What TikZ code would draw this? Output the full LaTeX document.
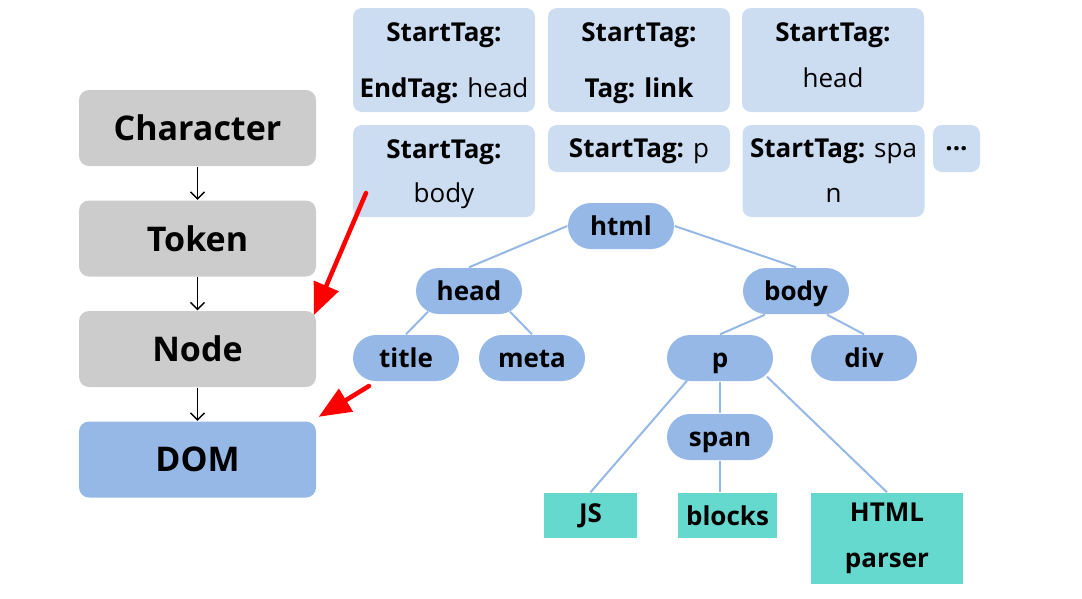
\documentclass[tikz,border=0pt]{standalone}
\usepackage{fontspec}
\setmainfont{Open Sans}
\usetikzlibrary{arrows.meta}
\definecolor{stagegray}{HTML}{CCCCCC}
\definecolor{domblue}{HTML}{95B8E7}
\definecolor{tokenblue}{HTML}{CCDDF2}
\definecolor{leafteal}{HTML}{66D9CF}
\newcommand{\upstrut}{\rule{0pt}{26pt}}
\newcommand{\downstrut}{\rule[-9pt]{0pt}{9pt}}

\begin{document}
\begin{tikzpicture}[x=1pt, y=-1pt, node distance=110.5pt,
                >={Straight Barb[length=7pt,width=14pt]}, line width=1.4pt,
                stage/.style={rectangle, rounded corners=10pt, fill=stagegray,
                    minimum width=237pt, minimum height=76pt,
                    font=\fontsize{34}{40}\selectfont\bfseries},
                tok/.style={rectangle, rounded corners=9pt, fill=tokenblue,
                    minimum width=182pt, inner sep=0pt, align=center,
                    font=\fontsize{26}{56}\selectfont},
                elem/.style={rectangle, rounded corners=23pt, fill=domblue,
                    minimum width=106pt, minimum height=46pt,
                    text height=19pt, text depth=1pt,
                    font=\fontsize{26}{30}\selectfont\bfseries},
                leaf/.style={rectangle, fill=leafteal, minimum height=45pt,
                    inner sep=0pt, align=center,
                    font=\fontsize{26}{46}\selectfont\bfseries},
                link/.style={draw=domblue, line width=2pt},
                hint/.style={draw=red, line width=4.5pt, line cap=round,
                    -{Triangle[length=32pt,width=26pt]}}]
        \useasboundingbox (0,0) rectangle (1082,598);

%% pipeline
        \node [stage] at (197.5,128) (character) {Character};
        \node [stage, below of = character] (token) {Token};
        \node [stage, below of = token] (node) {Node};
        \node [stage, below of = node, fill=domblue] (dom) {DOM};

        \path [->]
                (character) edge (token)
                (token) edge (node)
                (node) edge (dom)
                ;

%% tokens
        \node [tok, minimum height=104pt] at (444,60) (endhead)
                {\upstrut\textbf{StartTag:}\\\textbf{EndTag:} head};
        \node [tok, minimum height=104pt] at (639,60) (taglink)
                {\upstrut\textbf{StartTag:}\\\textbf{Tag: link}};
        \node [tok, minimum height=104pt] at (833,60) (starthead)
                {\textbf{StartTag:}\\[-10pt]head\downstrut};
        \node [tok, minimum height=92pt] at (444,171) (startbody)
                {\upstrut\textbf{StartTag:}\\[-12pt]body};
        \node [tok, minimum height=47pt, text depth=0pt] at (639,148.5) (startp)
                {\textbf{StartTag:} p};
        \node [tok, minimum height=92pt] at (833.5,171) (startspan)
                {\textbf{StartTag:} spa\\[-11pt]n};
        \node [tok, minimum width=47pt, minimum height=47pt, text depth=0pt]
                at (956.5,148.5) (more) {\textbf{...}};

%% tree
        \node [elem] at (621,226) (html) {html};
        \node [elem] at (469,291) (head) {head};
        \node [elem] at (796,291) (body) {body};
        \node [elem] at (406,358) (title) {title};
        \node [elem] at (532,358) (meta) {meta};
        \node [elem] at (720,358) (p) {p};
        \node [elem] at (864,358) (div) {div};
        \node [elem] at (720,437) (span) {span};
        \node [leaf, minimum width=93pt] at (590.5,515.5) (js) {JS};
        \node [leaf, minimum width=99pt] at (727.5,515.5) (blocks) {blocks};
        \node [leaf, minimum width=152pt, minimum height=91pt] at (887,538.5) (parser)
                {HTML\\parser};

        \draw [link] (html.west) -- (head.north);
        \draw [link] (html.east) -- (body.north);
        \draw [link] ([xshift=-41pt,yshift=3pt]head.south) -- (title.north);
        \draw [link] ([xshift=41pt,yshift=3pt]head.south) -- (meta.north);
        \draw [link] ([xshift=-31pt]body.south) -- (p.north);
        \draw [link] ([xshift=31pt]body.south) -- (div.north);
        \draw [link] (p.south) -- (span.north);
        \draw [link] ([xshift=-33pt,yshift=1pt]p.south) -- (js.north);
        \draw [link] ([xshift=47pt,yshift=5pt]p.south) -- (parser.north);
        \draw [link] (span.south) -- (span.south |- blocks.north);

%% hints
        \coordinate (bodyhint) at (366,193);
        \coordinate (titlehint) at (369,386);
        \draw [hint] (bodyhint) -- ([xshift=-3pt,yshift=-5pt]node.north east);
        \draw [hint] (titlehint) -- ([xshift=2pt,yshift=4pt]dom.north east);
\end{tikzpicture}
\end{document}
